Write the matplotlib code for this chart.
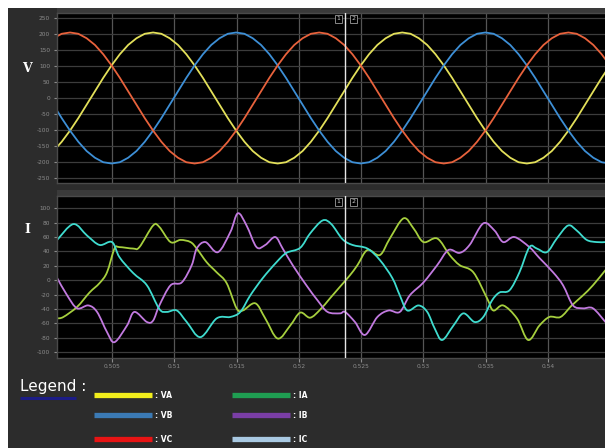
import numpy as np
import matplotlib
matplotlib.use("Agg")
import matplotlib.pyplot as plt
from matplotlib.patches import Rectangle, PathPatch
from matplotlib.path import Path

# ---------------- data ----------------
# voltages, sampled every 1/1500 s starting at t_v0 (seconds)
t_v0 = 0.500297
v_step = 1 / 1500
va = [-166, -137, -102, -63, -21, 21, 63, 102, 137, 166, 187, 201,
      205, 201, 187, 166, 137, 102, 63, 21, -21, -63, -102, -137, -166, -187, -201, -205, -201, -187,
      -166, -137, -102, -63, -21, 21, 63, 102, 137, 166, 187, 201,
      205, 201, 187, 166, 137, 102, 63, 21, -21, -63, -102, -137, -166, -187, -201, -205, -201, -187,
      -166, -137, -102, -63, -21, 21, 63, 102]
vb = [-21, -63, -102, -137, -166, -187, -201, -205, -201, -187, -166, -137, -102, -63, -21, 21, 63,
      102, 137, 166, 187, 201,
      205, 201, 187, 166, 137, 102, 63, 21, -21, -63, -102, -137, -166, -187, -201, -205, -201, -187,
      -166, -137, -102, -63, -21, 21, 63, 102, 137, 166, 187, 201,
      205, 201, 187, 166, 137, 102, 63, 21, -21, -63, -102, -137, -166, -187, -201, -205]
vc = [187, 201,
      205, 201, 187, 166, 137, 102, 63, 21, -21, -63, -102, -137, -166, -187, -201, -205, -201, -187,
      -166, -137, -102, -63, -21, 21, 63, 102, 137, 166, 187, 201,
      205, 201, 187, 166, 137, 102, 63, 21, -21, -63, -102, -137, -166, -187, -201, -205, -201, -187,
      -166, -137, -102, -63, -21, 21, 63, 102, 137, 166, 187, 201,
      205, 201, 187, 166, 137, 102]

# currents: time in ms, value in A
t_ia = [500.6, 501.1, 502.2, 503.2, 504.0, 504.6, 505.2, 505.6, 506.7, 507.2, 508.3, 508.8, 509.7,
        510.5, 511.3, 511.8, 512.6, 513.4, 514.2, 515.0, 515.5, 516.5, 517.3, 518.3, 519.3, 520.1,
        520.9, 521.7, 522.5, 523.3, 524.1, 524.7, 525.5, 526.5, 527.3, 528.4, 529.2, 530.0, 531.1,
        532.1, 532.9, 534.0, 535.1, 535.6, 536.4, 537.5, 538.4, 539.3, 540.1, 541.0, 541.9, 542.8,
        543.6, 544.6]
ia = [-53, -51, -37, -17, -4, 11, 44, 46, 44, 46, 76, 74, 53,
      56, 53, 44, 25, 11, -4, -39, -42, -32, -53, -81, -63, -45,
      -52, -41, -25, -9, 7, 21, 42, 35, 58, 86, 72, 53, 58,
      35, 21, 11, -25, -42, -35, -53, -83, -63, -51, -51, -35, -21,
      -7, 14]

t_ib = [500.6, 501.4, 502.2, 503.1, 503.8, 504.6, 505.2, 506.2, 506.8, 507.8, 508.3, 508.8, 509.7,
        510.6, 511.4, 511.8, 512.5, 513.5, 514.5, 515.1, 515.8, 516.6, 517.3, 518.1, 518.7, 519.5,
        520.6, 521.5, 522.3, 523.3, 523.7, 524.5, 525.3, 526.3, 527.2, 528.1, 528.9, 530.0, 531.1,
        532.0, 532.9, 533.7, 534.8, 535.7, 536.4, 537.3, 538.5, 539.3, 540.4, 541.2, 542.0, 542.8,
        543.6, 544.6]
ib = [3, -21, -39, -35, -44, -72, -86, -63, -44, -58, -56, -35, -7,
      -3, 21, 44, 53, 39, 67, 93, 76, 46, 49, 60, 44, 21,
      -7, -28, -44, -46, -44, -58, -76, -51, -42, -44, -21, -3, 21,
      42, 38, 49, 79, 69, 53, 60, 46, 31, 11, -7, -35, -39,
      -39, -58]

t_ic = [500.6, 501.9, 503.0, 504.0, 505.0, 505.6, 506.7, 507.8, 508.8, 509.4, 510.2, 511.0, 512.1,
        513.4, 514.5, 515.3, 516.1, 517.1, 518.2, 519.0, 520.1, 520.9, 521.9, 522.6, 523.5, 524.3,
        525.5, 526.5, 527.5, 528.1, 528.7, 529.6, 530.3, 530.9, 531.5, 532.4, 533.2, 534.1, 534.8,
        535.5, 536.1, 536.9, 537.7, 538.5, 539.1, 539.9, 540.7, 541.6, 542.3, 543.1, 543.9, 544.6]
ic = [56, 78, 62, 49, 53, 32, 10, -7, -40, -44, -42, -58, -79,
      -53, -51, -44, -21, 3, 25, 38, 45, 65, 83, 78, 57, 49,
      44, 28, 3, -21, -42, -35, -44, -67, -83, -63, -46, -58, -51,
      -28, -17, -14, 11, 46, 44, 39, 58, 76, 69, 56, 53, 53]

x_ticks = [0.505, 0.510, 0.515, 0.520, 0.525, 0.530, 0.535, 0.540]
x_tick_labels = ["0.505", "0.51", "0.515", "0.52", "0.525", "0.53", "0.535", "0.54"]
v_ticks = [-250, -200, -150, -100, -50, 0, 50, 100, 150, 200, 250]
i_ticks = [-100, -80, -60, -40, -20, 0, 20, 40, 60, 80, 100]
cursor_t = 0.5237
legend_names = [": VA", ": VB", ": VC", ": IA", ": IB", ": IC"]
legend_colors = ["#f2ee1c", "#3b7ab5", "#e81414", "#1f9e52", "#7a3ea6", "#a9c9e2"]

# ---------------- figure ----------------
W, H = 605, 448
fig = plt.figure(figsize=(W / 100, H / 100), dpi=100, facecolor="white")

bg = fig.add_axes([0, 0, 1, 1])
bg.set_xlim(0, W)
bg.set_ylim(H, 0)
bg.axis("off")
bg.add_patch(Rectangle((8, 8), W - 8, H - 8, facecolor="#2c2c2c", edgecolor="none"))
bg.add_patch(Rectangle((57, 8), W - 57, 5, facecolor="#3a3a3a", edgecolor="none"))
bg.add_patch(Rectangle((57, 190), W - 57, 6, facecolor="#3a3a3a", edgecolor="none"))

t_v = t_v0 + np.arange(len(va)) * v_step
xlim = (0.500586, 0.544567)


def smooth_line(ax, x, y, color):
    """Draw a smooth curve through the data points (Catmull-Rom rendered as Bezier)."""
    P = np.column_stack([x, y]).astype(float)
    E = np.vstack([P[0], P, P[-1]])
    verts = [P[0]]
    codes = [Path.MOVETO]
    for i in range(len(P) - 1):
        p0, p1, p2, p3 = E[i], E[i + 1], E[i + 2], E[i + 3]
        verts += [p1 + (p2 - p0) / 6, p2 - (p3 - p1) / 6, p2]
        codes += [Path.CURVE4] * 3
    ax.add_patch(PathPatch(Path(verts, codes), facecolor="none", edgecolor=color, lw=1.3,
                           capstyle="round", joinstyle="round"))


def style(ax, ylim, yticks, show_x):
    ax.set_facecolor("black")
    ax.set_xlim(*xlim)
    ax.set_ylim(*ylim)
    ax.set_xticks(x_ticks)
    ax.set_yticks(yticks)
    ax.set_yticklabels([str(v) for v in yticks])
    ax.yaxis.grid(True, color="#3c3c3c", lw=0.9)
    ax.xaxis.grid(True, color="#555555", lw=0.9)
    ax.set_axisbelow(True)
    for s in ax.spines.values():
        s.set_color("#4a4a4a")
        s.set_linewidth(1.0)
    ax.spines["right"].set_visible(False)
    ax.tick_params(axis="y", colors="#8c8c8c", labelsize=4.2, length=2, pad=3)
    ax.tick_params(axis="x", colors="#8c8c8c", labelsize=4.2, length=3, pad=1.5)
    if show_x:
        ax.set_xticklabels(x_tick_labels)
    else:
        ax.set_xticklabels([])
        ax.tick_params(axis="x", length=0)
    ax.axvline(cursor_t, color="#e6e6e6", lw=1.0, zorder=5)
    for xx, lab in ((0.52318, "1"), (0.52438, "2")):
        ax.text(xx, 0.965, lab, transform=ax.get_xaxis_transform(), ha="center", va="center",
                fontsize=4.5, color="#cccccc",
                bbox=dict(boxstyle="square,pad=0.25", fc="black", ec="#888888", lw=0.7), zorder=6)


ax1 = fig.add_axes([57 / W, 1 - 183 / H, (W - 57) / W, 170 / H])
style(ax1, (-266, 266), v_ticks, False)
ax1.plot(t_v, va, color="#e3e05a", lw=1.3)
ax1.plot(t_v, vb, color="#3d8fd6", lw=1.3)
ax1.plot(t_v, vc, color="#e8623c", lw=1.3)

ax2 = fig.add_axes([57 / W, 1 - 358 / H, (W - 57) / W, 162 / H])
style(ax2, (-108, 117), i_ticks, True)
smooth_line(ax2, np.array(t_ia) / 1000, ia, "#a6cf3e")
smooth_line(ax2, np.array(t_ib) / 1000, ib, "#c27ae0")
smooth_line(ax2, np.array(t_ic) / 1000, ic, "#3fdccf")

# axis names
fig.text(27 / W, 1 - 68 / H, "V", color="white", fontsize=9, fontweight="bold",
         family="DejaVu Serif", ha="center", va="center")
fig.text(27 / W, 1 - 229 / H, "I", color="white", fontsize=9, fontweight="bold",
         family="DejaVu Serif", ha="center", va="center")

# legend block
bg.text(20, 386, "Legend :", color="white", fontsize=11,
        family=["Liberation Sans Narrow", "DejaVu Sans"], ha="left", va="center")
bg.plot([20, 76], [398, 398], color="#1c1c86", lw=2.2, solid_capstyle="butt")
cols = [(94, 152), (232, 290)]
rows = [395, 415, 439]
for i, (name, col) in enumerate(zip(legend_names, legend_colors)):
    x0, x1 = cols[i // 3]
    y = rows[i % 3]
    bg.plot([x0, x1], [y, y], color=col, lw=3.8, solid_capstyle="butt")
    bg.text(x1 + 3, y, name, color="white", fontsize=5.5, fontweight="bold",
            ha="left", va="center")

fig.savefig("out.png", dpi=100, facecolor="white")
